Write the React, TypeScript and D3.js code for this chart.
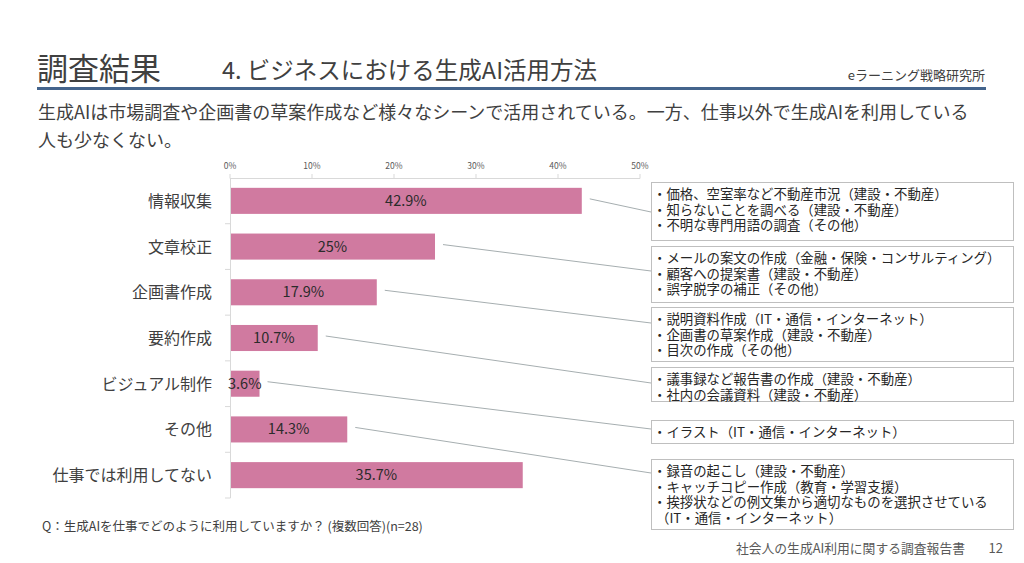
import React from "react";
import * as d3 from "d3";

const categories = ["情報収集", "文章校正", "企画書作成", "要約作成", "ビジュアル制作", "その他", "仕事では利用してない"];
const values = [42.9, 25, 17.9, 10.7, 3.6, 14.3, 35.7];
const valueLabels = ["42.9%", "25%", "17.9%", "10.7%", "3.6%", "14.3%", "35.7%"];
const ticks = [0, 10, 20, 30, 40, 50];
const notes: string[][] = [
  ["・価格、空室率など不動産市況（建設・不動産）", "・知らないことを調べる（建設・不動産）", "・不明な専門用語の調査（その他）"],
  ["・メールの案文の作成（金融・保険・コンサルティング）", "・顧客への提案書（建設・不動産）", "・誤字脱字の補正（その他）"],
  ["・説明資料作成（IT・通信・インターネット）", "・企画書の草案作成（建設・不動産）", "・目次の作成（その他）"],
  ["・議事録など報告書の作成（建設・不動産）", "・社内の会議資料（建設・不動産）"],
  ["・イラスト（IT・通信・インターネット）"],
  ["・録音の起こし（建設・不動産）", "・キャッチコピー作成（教育・学習支援）", "・挨拶状などの例文集から適切なものを選択させている", " （IT・通信・インターネット）"],
];
const noteTargets = [0, 1, 2, 3, 4, 5];

const FONT = "'Noto Sans CJK JP', 'Noto Sans', sans-serif";

export default function App() {
  const W = 1024, H = 563;
  const x = d3.scaleLinear().domain([0, 50]).range([230, 640]);
  const y = d3.scaleBand().domain(categories).range([178, 498]).paddingInner(0.43).paddingOuter(0.215);
  const bw = y.bandwidth();
  const step = y.step();

  const boxTops = [182, 246, 307, 367, 420, 459];
  const boxHs = [58, 56, 54, 34, 23, 70];
  const boxX = 651, boxW = 362;
  const lineH = 15.5;
  const endOffsets = [30, 25, 16, 16, 9, 14];

  return (
    <svg width={W} height={H} style={{ position: "absolute", left: 0, top: 0, background: "#fff", fontFamily: FONT }}>
      <rect width={W} height={H} fill="#fff" />
      {/* header */}
      <text x={37} y={80} fontSize={31} fill="#404040">調査結果</text>
      <text x={222} y={79} fontSize={23.5} fill="#404040">4. ビジネスにおける生成AI活用方法</text>
      <text x={985} y={80} fontSize={13} fill="#404040" textAnchor="end">eラーニング戦略研究所</text>
      <line x1={37} x2={986} y1={88.5} y2={88.5} stroke="#44648c" strokeWidth={3} />
      <text x={38} y={119} fontSize={18} fill="#404040">生成AIは市場調査や企画書の草案作成など様々なシーンで活用されている。一方、仕事以外で生成AIを利用している</text>
      <text x={38} y={147} fontSize={18} fill="#404040">人も少なくない。</text>

      {/* axis */}
      <line x1={x(0)} x2={x(50)} y1={178.5} y2={178.5} stroke="#d9d9d9" />
      {ticks.map((t) => (
        <g key={t}>
          <line x1={x(t)} x2={x(t)} y1={174} y2={178.5} stroke="#d9d9d9" />
          <text x={x(t)} y={169} fontSize={8.5} fill="#595959" textAnchor="middle">{t}%</text>
        </g>
      ))}
      <line x1={230.5} x2={230.5} y1={178} y2={498} stroke="#d9d9d9" />
      {categories.map((c, i) => {
        const b = (y(c) as number) - (step - bw) / 2;
        return <line key={"tk" + i} x1={225} x2={230.5} y1={b + step} y2={b + step} stroke="#d9d9d9" />;
      })}

      {/* bars */}
      {categories.map((c, i) => {
        const yy = y(c) as number;
        const xe = x(values[i]);
        return (
          <g key={c}>
            <text x={212} y={yy + bw / 2 + 6} fontSize={16} fill="#404040" textAnchor="end">{c}</text>
            <rect x={x(0) + 1} y={yy} width={xe - x(0) - 1} height={bw} fill="#d07aa0" />
            <text x={(x(0) + xe) / 2} y={yy + bw / 2 + 5} fontSize={14.5} fill="#2b2b2b" textAnchor="middle">{valueLabels[i]}</text>
          </g>
        );
      })}

      {/* callouts */}
      {notes.map((lines, k) => {
        const cat = categories[noteTargets[k]];
        const yy = (y(cat) as number) + bw / 2 - 2;
        const xs = x(values[noteTargets[k]]) + 8;
        const top = boxTops[k];
        const h = boxHs[k];
        const endY = top + endOffsets[k];
        return (
          <g key={"n" + k}>
            <line x1={xs} y1={yy} x2={boxX} y2={endY} stroke="#a6aeb0" strokeWidth={1} />
            <rect x={boxX + 0.5} y={top + 0.5} width={boxW} height={h} fill="#fff" stroke="#bfbfbf" />
            {lines.map((l, j) => (
              <text key={j} x={boxX + 2} y={top + 17 + j * lineH} fontSize={13.4} fill="#262626" xmlSpace="preserve">{l}</text>
            ))}
          </g>
        );
      })}

      {/* footer */}
      <text x={42} y={531} fontSize={12.5} fill="#404040">Q：生成AIを仕事でどのように利用していますか？ (複数回答)(n=28)</text>
      <text x={965} y={553} fontSize={12.8} fill="#595959" textAnchor="end">社会人の生成AI利用に関する調査報告書</text>
      <text x={1003} y={553} fontSize={13} fill="#595959" textAnchor="end">12</text>
    </svg>
  );
}
